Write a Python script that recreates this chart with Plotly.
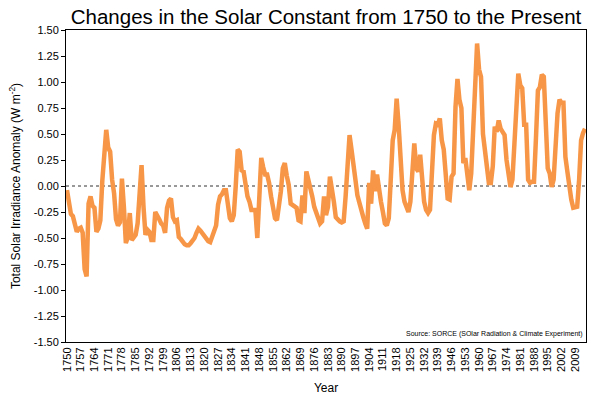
import plotly.graph_objects as go

years = list(range(1750, 2015))
tsi_anomaly = [
    -0.04, -0.20, -0.27, -0.29, -0.36, -0.44, -0.41, -0.40, -0.45, -0.80,  # 1750-1759
    -0.87, -0.17, -0.10, -0.19, -0.21, -0.44, -0.41, -0.33, 0.05, 0.35,    # 1760-1769
    0.54, 0.37, 0.33, 0.06, -0.07, -0.32, -0.38, -0.35, 0.07, -0.20,       # 1770-1779
    -0.55, -0.49, -0.26, -0.52, -0.50, -0.47, -0.36, -0.10, 0.20, -0.20,   # 1780-1789
    -0.47, -0.42, -0.44, -0.52, -0.52, -0.25, -0.28, -0.32, -0.36, -0.38,  # 1790-1799
    -0.45, -0.21, -0.14, -0.12, -0.30, -0.34, -0.33, -0.49, -0.51, -0.54,  # 1800-1809
    -0.56, -0.57, -0.57, -0.55, -0.53, -0.50, -0.45, -0.41, -0.43, -0.46,  # 1810-1819
    -0.49, -0.51, -0.53, -0.54, -0.48, -0.42, -0.38, -0.18, -0.10, -0.08,  # 1820-1829
    -0.04, -0.04, -0.20, -0.31, -0.34, -0.28, 0.00, 0.35, 0.33, 0.15,      # 1830-1839
    0.14, 0.02, -0.10, -0.15, -0.23, -0.23, -0.23, -0.50, -0.20, 0.27,     # 1840-1849
    0.18, 0.11, 0.11, 0.03, -0.10, -0.22, -0.31, -0.33, -0.20, -0.05,      # 1850-1859
    0.17, 0.22, 0.10, 0.01, -0.17, -0.18, -0.19, -0.21, -0.33, -0.34,      # 1860-1869
    -0.09, -0.26, 0.14, 0.06, 0.02, -0.10, -0.20, -0.26, -0.29, -0.36,     # 1870-1879
    -0.34, -0.10, -0.28, -0.20, 0.09, -0.01, -0.15, -0.30, -0.33, -0.34,   # 1880-1889
    -0.35, -0.34, -0.10, 0.20, 0.49, 0.35, 0.15, 0.06, -0.09, -0.17,       # 1890-1899
    -0.22, -0.30, -0.36, -0.41, 0.03, -0.17, 0.15, -0.05, 0.11, -0.05,     # 1900-1909
    -0.15, -0.25, -0.36, -0.38, -0.31, 0.06, 0.44, 0.54, 0.84, 0.59,       # 1910-1919
    0.23, -0.04, -0.15, -0.22, -0.25, -0.15, 0.15, 0.41, 0.17, 0.14,       # 1920-1929
    0.30, 0.03, -0.15, -0.23, -0.26, -0.23, 0.09, 0.49, 0.60, 0.59,        # 1930-1939
    0.65, 0.44, 0.35, 0.06, -0.12, -0.13, 0.09, 0.12, 0.76, 1.03,          # 1940-1949
    0.83, 0.75, 0.22, 0.27, 0.09, -0.04, 0.12, 0.60, 1.10, 1.37,           # 1950-1959
    1.12, 1.05, 0.50, 0.31, 0.19, 0.03, 0.03, 0.19, 0.57, 0.52,            # 1960-1969
    0.63, 0.55, 0.52, 0.49, 0.25, 0.12, -0.01, 0.06, 0.44, 0.83,           # 1970-1979
    1.08, 0.97, 0.94, 0.59, 0.59, 0.06, 0.03, 0.04, 0.04, 0.46,            # 1980-1989
    0.92, 0.95, 1.07, 1.05, 0.54, 0.17, 0.12, -0.01, 0.06, 0.47,           # 1990-1999
    0.70, 0.83, 0.80, 0.80, 0.28, 0.14, -0.01, -0.13, -0.21, -0.21,        # 2000-2009
    -0.20, 0.06, 0.44, 0.51, 0.55,                                         # 2010-2014
]

x_tick_years = list(range(1750, 2010, 7))
y_tick_values = [1.5, 1.25, 1.0, 0.75, 0.5, 0.25, 0.0, -0.25, -0.5, -0.75, -1.0, -1.25, -1.5]
y_tick_labels = [f"{v:.2f}" for v in y_tick_values]

title_text = "Changes in the Solar Constant from 1750 to the Present"
source_text = "Source: SORCE (SOlar Radiation & Climate Experiment)"

fig = go.Figure()
fig.add_trace(go.Scatter(
    x=years, y=tsi_anomaly, mode="lines",
    line=dict(color="#F79646", width=4.5),
    showlegend=False, hoverinfo="x+y",
))

fig.add_shape(type="line", xref="paper", yref="y", x0=0, x1=1, y0=0, y1=0,
              line=dict(color="#333333", width=1, dash="dot"), layer="below")

fig.update_layout(
    width=600, height=398,
    margin=dict(l=66, r=14, t=30, b=56, autoexpand=False),
    paper_bgcolor="white", plot_bgcolor="white",
    font=dict(family="Liberation Sans, Arial, sans-serif", color="#000000"),
    title=dict(text=title_text, xref="paper", x=0.5, xanchor="center",
               yref="container", y=0.958, yanchor="middle",
               font=dict(size=20.5, color="#000000")),
    xaxis=dict(
        range=[1749.5, 2014.5], automargin=False,
        tickmode="array", tickvals=x_tick_years,
        ticktext=[str(y) for y in x_tick_years],
        tickangle=-90, tickfont=dict(size=11),
        showgrid=False, zeroline=False,
        showline=True, linecolor="#000000", linewidth=1, mirror=True,
        ticks="", title=dict(text="Year", font=dict(size=12), standoff=12),
    ),
    yaxis=dict(
        range=[-1.5, 1.5], automargin=False,
        tickmode="array", tickvals=y_tick_values, ticktext=y_tick_labels,
        tickfont=dict(size=11),
        showgrid=False, zeroline=False,
        showline=True, linecolor="#000000", linewidth=1, mirror=True,
        ticks="outside", ticklen=4, tickcolor="#000000",
        title=dict(text="Total Solar Irradiance Anomaly (W m<sup>-2</sup>)",
                   font=dict(size=12), standoff=10),
    ),
    annotations=[dict(
        text=source_text, xref="paper", yref="paper", x=0.998, y=0.005,
        xanchor="right", yanchor="bottom", showarrow=False,
        font=dict(size=7, color="#000000"),
    )],
)

fig.write_html("out.html", config={"displayModeBar": False},
               post_script="document.body.style.margin='0';")
